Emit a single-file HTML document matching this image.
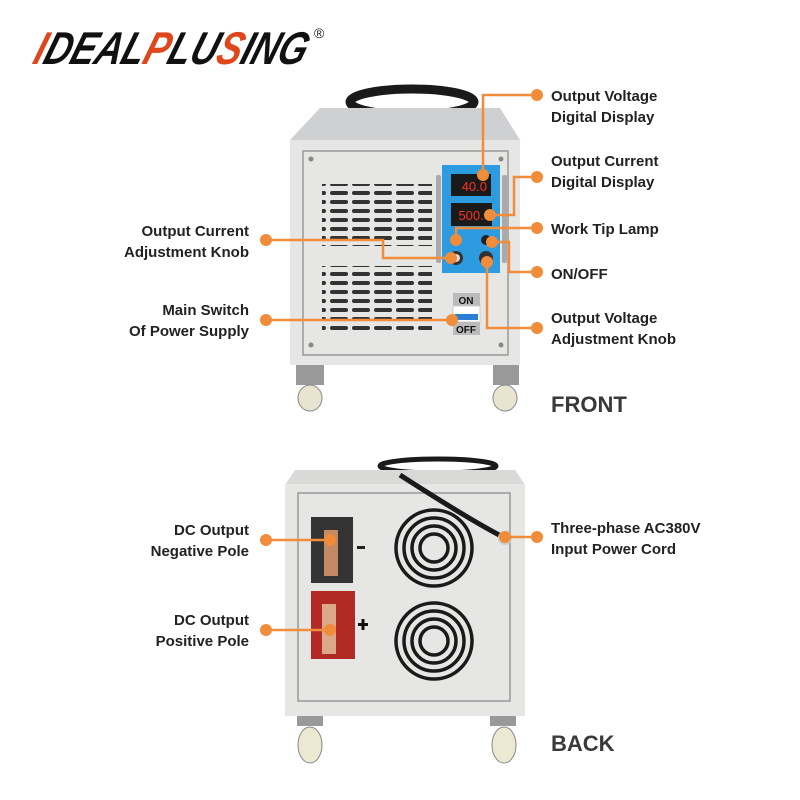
<!DOCTYPE html>
<html><head><meta charset="utf-8"><style>
html,body{margin:0;padding:0;background:#fff;}
svg{display:block;}
text{font-family:"Liberation Sans",sans-serif;}
</style></head><body>
<svg width="800" height="800" viewBox="0 0 800 800" xmlns="http://www.w3.org/2000/svg">
<defs>
<pattern id="vent" width="22" height="9" patternUnits="userSpaceOnUse">
<rect x="0" y="2" width="18" height="4" rx="2" fill="#333"/>
</pattern>
</defs>
<rect width="800" height="800" fill="#fff"/>
<!-- Logo -->
<g font-family="Liberation Sans" font-style="italic" font-weight="bold" font-size="46" transform="skewX(-18)">
<text x="52" y="64" fill="#111" textLength="272" lengthAdjust="spacingAndGlyphs"><tspan fill="#e0461c">I</tspan>DEAL<tspan fill="#e0461c">P</tspan>LU<tspan fill="#e0461c">S</tspan>ING</text>
</g>
<text x="314" y="38" font-size="14" fill="#222">®</text>

<!-- FRONT machine -->
<ellipse cx="412" cy="102" rx="62" ry="13" fill="none" stroke="#1a1a1a" stroke-width="9"/>
<path d="M320 108 L500 108 L520 140 L290 140 Z" fill="#cfd0d2"/>
<rect x="290" y="140" width="230" height="225" fill="#e6e6e4"/>
<rect x="303" y="151" width="205" height="204" fill="none" stroke="#999" stroke-width="1.5"/>
<circle cx="311" cy="159" r="2.5" fill="#888"/><circle cx="501" cy="159" r="2.5" fill="#888"/>
<circle cx="311" cy="345" r="2.5" fill="#888"/><circle cx="501" cy="345" r="2.5" fill="#888"/>
<rect x="322" y="184" width="110" height="62" fill="url(#vent)"/>
<rect x="322" y="266" width="110" height="66" fill="url(#vent)"/>
<rect x="436" y="175" width="5" height="88" rx="2" fill="#aaa"/>
<rect x="502" y="175" width="5" height="88" rx="2" fill="#aaa"/>
<rect x="442" y="165" width="58" height="108" fill="#2d9be0"/>
<rect x="451" y="174" width="40" height="22" fill="#1a1a1a"/>
<text x="487" y="191" font-size="13" fill="#ff3020" text-anchor="end">40.0</text>
<rect x="451" y="203" width="41" height="23" fill="#1a1a1a"/>
<text x="491" y="220" font-size="13" fill="#ff3020" text-anchor="end">500.0</text>
<circle cx="486" cy="240" r="5" fill="#222"/>
<circle cx="456" cy="258" r="7" fill="#333"/><circle cx="456" cy="258" r="4" fill="#ddd"/>
<circle cx="486" cy="258" r="7" fill="#333"/>
<rect x="453" y="293" width="27" height="13" fill="#bbb"/>
<text x="466" y="304" font-size="10" font-family="Liberation Serif" font-weight="bold" text-anchor="middle" fill="#111">ON</text>
<rect x="453" y="306" width="27" height="16" fill="#fff" stroke="#ccc"/>
<rect x="455" y="314" width="23" height="6" fill="#2a7fd4"/>
<rect x="453" y="322" width="27" height="13" fill="#bbb"/>
<text x="466" y="333" font-size="10" font-family="Liberation Serif" font-weight="bold" text-anchor="middle" fill="#111">OFF</text>
<rect x="296" y="365" width="28" height="20" fill="#999"/>
<ellipse cx="310" cy="398" rx="12" ry="13" fill="#e8e4d0" stroke="#888"/>
<rect x="493" y="365" width="26" height="20" fill="#999"/>
<ellipse cx="505" cy="398" rx="12" ry="13" fill="#e8e4d0" stroke="#888"/>

<!-- BACK machine -->
<ellipse cx="438" cy="466" rx="58" ry="7" fill="none" stroke="#1a1a1a" stroke-width="5"/>
<path d="M295 470 L515 470 L525 485 L285 485 Z" fill="#d9d9d8"/>
<rect x="285" y="484" width="240" height="232" fill="#e6e6e4"/>
<rect x="298" y="493" width="212" height="208" fill="none" stroke="#999" stroke-width="1.5"/>
<path d="M400 475 Q470 520 503 537" fill="none" stroke="#1a1a1a" stroke-width="5"/>
<circle cx="505" cy="538" r="7" fill="#ccc"/>
<rect x="311" y="517" width="42" height="66" fill="#333"/>
<rect x="324" y="530" width="14" height="46" fill="#c48a64"/>
<rect x="357" y="546" width="8" height="3" fill="#222"/>
<rect x="311" y="591" width="44" height="68" fill="#b12a24"/>
<rect x="322" y="604" width="14" height="50" fill="#d9a98a"/>
<rect x="358" y="623" width="10" height="3" fill="#111"/><rect x="361.5" y="619" width="3" height="11" fill="#111"/>
<g fill="none" stroke="#1a1a1a" stroke-width="3.5">
<circle cx="434" cy="548" r="38"/><circle cx="434" cy="548" r="30"/><circle cx="434" cy="548" r="22"/><circle cx="434" cy="548" r="14"/>
<circle cx="434" cy="641" r="38"/><circle cx="434" cy="641" r="30"/><circle cx="434" cy="641" r="22"/><circle cx="434" cy="641" r="14"/>
</g>
<rect x="297" y="716" width="26" height="10" fill="#999"/>
<ellipse cx="310" cy="745" rx="12" ry="18" fill="#ece8d2" stroke="#888"/>
<rect x="490" y="716" width="26" height="10" fill="#999"/>
<ellipse cx="504" cy="745" rx="12" ry="18" fill="#ece8d2" stroke="#888"/>

<!-- connectors -->
<g fill="none" stroke="#f08c3a" stroke-width="2.5">
<path d="M266 240 H383 V258 H451"/>
<path d="M266 320 H452"/>
<path d="M266 540 H330"/>
<path d="M266 630 H330"/>
<path d="M537 95 H483 V175"/>
<path d="M537 177 H514 V215 H490"/>
<path d="M537 228 H456 V240"/>
<path d="M537 272 H509 V242 H492"/>
<path d="M537 328 H487 V262"/>
<path d="M537 537 H505"/>
</g>
<g fill="#f08c3a">
<circle cx="266" cy="240" r="6"/><circle cx="266" cy="320" r="6"/><circle cx="266" cy="540" r="6"/><circle cx="266" cy="630" r="6"/>
<circle cx="537" cy="95" r="6"/><circle cx="537" cy="177" r="6"/><circle cx="537" cy="228" r="6"/><circle cx="537" cy="272" r="6"/><circle cx="537" cy="328" r="6"/><circle cx="537" cy="537" r="6"/>
<circle cx="483" cy="175" r="6"/><circle cx="490" cy="215" r="6"/><circle cx="456" cy="240" r="6"/><circle cx="492" cy="242" r="6"/><circle cx="487" cy="262" r="6"/><circle cx="451" cy="258" r="6"/><circle cx="452" cy="320" r="6"/><circle cx="330" cy="540" r="6"/><circle cx="330" cy="630" r="6"/><circle cx="505" cy="537" r="6"/>
</g>

<!-- labels -->
<g font-size="15" font-weight="bold" fill="#222">
<g text-anchor="end">
<text x="249" y="236">Output Current</text><text x="249" y="257">Adjustment Knob</text>
<text x="249" y="315">Main Switch</text><text x="249" y="336">Of Power Supply</text>
<text x="249" y="535">DC Output</text><text x="249" y="556">Negative Pole</text>
<text x="249" y="625">DC Output</text><text x="249" y="646">Positive Pole</text>
</g>
<text x="551" y="101">Output Voltage</text><text x="551" y="122">Digital Display</text>
<text x="551" y="166">Output Current</text><text x="551" y="187">Digital Display</text>
<text x="551" y="234">Work Tip Lamp</text>
<text x="551" y="279">ON/OFF</text>
<text x="551" y="323">Output Voltage</text><text x="551" y="344">Adjustment Knob</text>
<text x="551" y="533">Three-phase AC380V</text><text x="551" y="554">Input Power Cord</text>
</g>
<text x="551" y="412" font-size="22" font-weight="bold" fill="#3a3a3a">FRONT</text>
<text x="551" y="751" font-size="22" font-weight="bold" fill="#3a3a3a">BACK</text>
</svg>
</body></html>
